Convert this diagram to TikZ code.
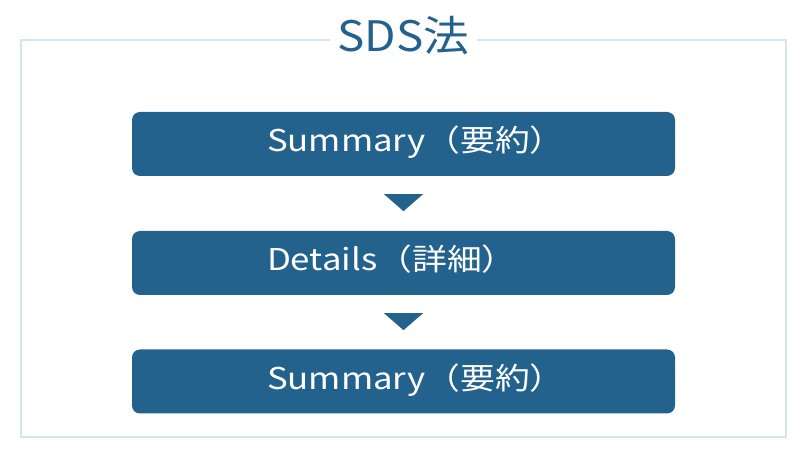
\documentclass[tikz,border=0pt]{standalone}
\usepackage{fontspec}
\usetikzlibrary{calc}
\setmainfont{Noto Sans CJK JP}
\newfontfamily\boxfont[FakeStretch=1.16]{Noto Sans CJK JP}
\newfontfamily\titlefont[FakeStretch=1.09]{Noto Sans CJK JP}
\definecolor{boxblue}{HTML}{24628E}
\definecolor{framec}{HTML}{D3E6EF}
\begin{document}
\begin{tikzpicture}[x=1pt,y=-1pt,
  stepbox/.style={fill=boxblue, rounded corners=8pt, minimum width=543pt, minimum height=64pt, inner sep=0pt},
  steptext/.style={anchor=base west, inner sep=0pt, text=white, font=\boxfont\fontsize{30}{32}\selectfont}]
\useasboundingbox (0,0) rectangle (807,454);
\draw[framec, line width=1.2pt] (21,40) rectangle (786,437);
\node[fill=white, inner xsep=8pt, inner ysep=2pt, text=boxblue, font=\titlefont\fontsize{42}{44}\selectfont, anchor=base] (title) at (403.5,51.5) {SDS法};
\node[stepbox] (s1) at (403.5,144) {};
\node[stepbox] (d) at (403.5,263) {};
\node[stepbox] (s2) at (403.5,381.5) {};
\node[steptext] (s1t) at ($(s1.west)+(135,8)$) {Summary（要約）};
\node[steptext] (dt) at ($(d.west)+(135,8)$) {Details（詳細）};
\node[steptext] (s2t) at ($(s2.west)+(135,8)$) {Summary（要約）};
\coordinate (t1) at ($(s1.south)+(0,18)$);
\coordinate (t2) at ($(d.south)+(0,18)$);
\fill[boxblue] ($(t1)+(-19.5,0)$) -- ($(t1)+(19.5,0)$) -- ($(t1)+(0,17)$) -- cycle;
\fill[boxblue] ($(t2)+(-19.5,0)$) -- ($(t2)+(19.5,0)$) -- ($(t2)+(0,17)$) -- cycle;
\end{tikzpicture}
\end{document}
